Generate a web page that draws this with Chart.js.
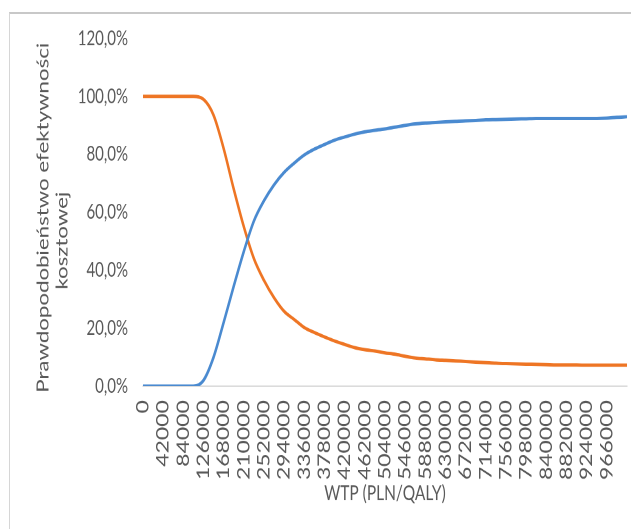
<!DOCTYPE html>
<html>
<head>
<meta charset="utf-8">
<script src="https://cdn.jsdelivr.net/npm/chart.js@4/dist/chart.umd.min.js"></script>
<style>
  html, body { margin: 0; padding: 0; background: #fff; overflow: hidden; }
  #frame { position: absolute; left: 9px; top: 12px; width: 700px; height: 600px;
           border-left: 1px solid #d6d6d6; border-top: 2px solid #c8c8c8; }
  #stage { position: absolute; left: 0; top: 0; width: 631px; height: 392px;
           transform: scaleY(1.35); transform-origin: 0 0; }
</style>
</head>
<body>
<div id="frame"></div>
<div id="stage"><canvas id="c"></canvas></div>
<script>
// Willingness-to-pay thresholds (PLN/QALY)
const wtp = [0, 21000, 42000, 63000, 84000, 105000, 126000, 147000, 168000, 189000,
  210000, 231000, 252000, 273000, 294000, 315000, 336000, 357000, 378000, 399000,
  420000, 441000, 462000, 483000, 504000, 525000, 546000, 567000, 588000, 609000,
  630000, 651000, 672000, 693000, 714000, 735000, 756000, 777000, 798000, 819000,
  840000, 861000, 882000, 903000, 924000, 945000, 966000, 987000, 1008000];

// Thresholds that carry a label on the horizontal axis
const tickLabels = ['0', '42000', '84000', '126000', '168000', '210000', '252000', '294000',
  '336000', '378000', '420000', '462000', '504000', '546000', '588000', '630000', '672000',
  '714000', '756000', '798000', '840000', '882000', '924000', '966000'];

// Probability of being cost-effective (%), intervention
const probIntervention = [0, 0, 0, 0, 0, 0, 2, 10, 22, 34.5,
  46.5, 57, 64, 69.5, 73.8, 77, 79.8, 81.8, 83.4, 84.9,
  86, 87, 87.8, 88.3, 88.8, 89.4, 90, 90.5, 90.8, 91,
  91.2, 91.4, 91.6, 91.7, 91.9, 92, 92.1, 92.2, 92.3, 92.4,
  92.4, 92.4, 92.4, 92.4, 92.4, 92.4, 92.5, 92.8, 93];

// Probability of being cost-effective (%), comparator
const probComparator = [100, 100, 100, 100, 100, 100, 99, 93.5, 82, 68,
  55, 44, 36.5, 30.5, 25.8, 23, 20.2, 18.5, 17, 15.6,
  14.4, 13.3, 12.6, 12.1, 11.5, 11, 10.3, 9.7, 9.4, 9.1,
  8.9, 8.7, 8.5, 8.3, 8.1, 7.9, 7.8, 7.7, 7.6, 7.5,
  7.4, 7.3, 7.3, 7.3, 7.2, 7.2, 7.2, 7.2, 7.2];

const yTitleLines = ['Prawdopodobieństwo efektywności', 'kosztowej'];

const axisGrey = '#595959';

// Two-line vertical axis title, each line placed on its own
const yTitlePlugin = {
  id: 'yTitle',
  afterDraw(chart) {
    const { ctx, chartArea } = chart;
    const mid = (chartArea.top + chartArea.bottom) / 2;
    const spots = [{ x: 43, y: mid + 4 }, { x: 62, y: mid + 21 }];
    ctx.save();
    ctx.fillStyle = axisGrey;
    ctx.font = '16.5px Lato';
    ctx.textAlign = 'center';
    ctx.textBaseline = 'middle';
    yTitleLines.forEach((line, i) => {
      ctx.save();
      ctx.translate(spots[i].x, spots[i].y);
      ctx.rotate(-Math.PI / 2);
      ctx.fillText(line, 0, 0);
      ctx.restore();
    });
    ctx.restore();
  }
};

new Chart(document.getElementById('c'), {
  type: 'line',
  data: {
    labels: wtp.map(String),
    datasets: [
      { label: 'Interwencja', data: probIntervention, borderColor: '#4a8ad0',
        borderWidth: 2.5, pointRadius: 0, cubicInterpolationMode: 'monotone', fill: false },
      { label: 'Komparator', data: probComparator, borderColor: '#ee7524',
        borderWidth: 2.5, pointRadius: 0, cubicInterpolationMode: 'monotone', fill: false }
    ]
  },
  plugins: [yTitlePlugin],
  options: {
    responsive: true,
    maintainAspectRatio: false,
    devicePixelRatio: 2,
    animation: false,
    layout: { padding: { left: 33, right: 4, top: 28.5, bottom: 17 } },
    plugins: { legend: { display: false }, tooltip: { enabled: false } },
    scales: {
      x: {
        type: 'category',
        offset: false,
        grid: { display: false, drawTicks: false },
        border: { display: true, color: '#d9d9d9', width: 1, dash: [5, 3] },
        afterFit: scale => { scale.height = 89; scale.paddingLeft = 0; scale.paddingRight = 0; },
        ticks: {
          autoSkip: false, minRotation: 90, maxRotation: 90, padding: 10.4,
          color: axisGrey, font: { family: 'Lato', size: 17 },
          callback: (v, i) => tickLabels.includes(String(wtp[i])) ? String(wtp[i]) : null
        },
        title: { display: true, text: 'WTP (PLN/QALY)', color: axisGrey,
                 font: { family: 'Lato', size: 15.5 }, padding: { top: 0, bottom: 0 } }
      },
      y: {
        min: 0, max: 120,
        grid: { display: false, drawTicks: false },
        border: { display: false },
        afterFit: scale => { scale.width = 110; },
        ticks: {
          stepSize: 20, padding: 15, color: axisGrey, font: { family: 'Lato', size: 15 },
          callback: v => v.toFixed(1).replace('.', ',') + '%'
        }
      }
    }
  }
});
</script>
</body>
</html>
